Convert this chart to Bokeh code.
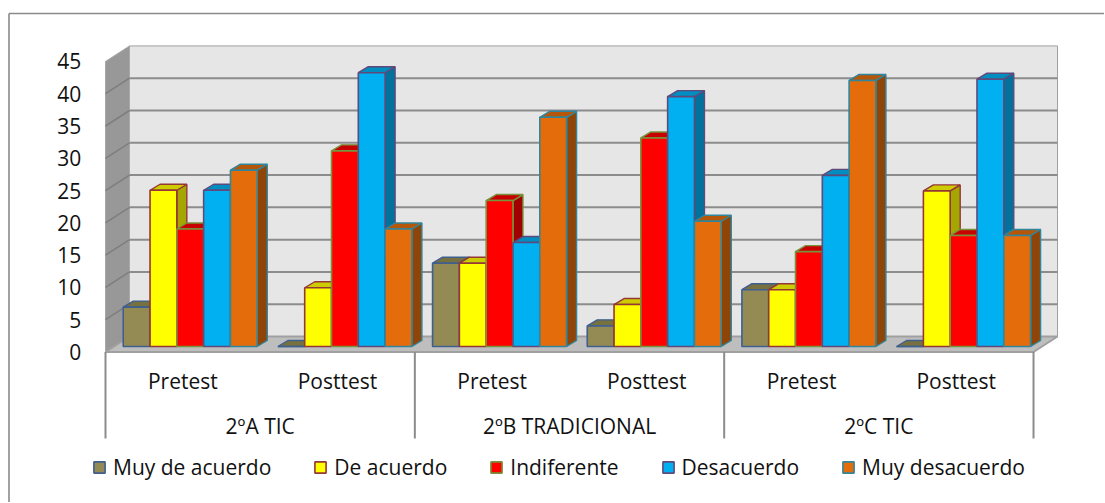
from bokeh.plotting import figure
from bokeh.models import Range1d, Legend, LegendItem, ColumnDataSource
from bokeh.core.properties import value
from bokeh.embed import file_html
from bokeh.resources import INLINE

# ---------------- data ----------------
groups = ["2ºA TIC", "2ºB TRADICIONAL", "2ºC TIC"]
tests = ["Pretest", "Posttest"]
series_names = ["Muy de acuerdo", "De acuerdo", "Indiferente", "Desacuerdo", "Muy desacuerdo"]
# one value per (group, test): A-Pre, A-Post, B-Pre, B-Post, C-Pre, C-Post
muy_de_acuerdo = [6.1, 0.0, 12.9, 3.2, 8.8, 0.0]
de_acuerdo = [24.2, 9.1, 12.9, 6.5, 8.8, 24.1]
indiferente = [18.2, 30.3, 22.6, 32.3, 14.7, 17.2]
desacuerdo = [24.2, 42.4, 16.1, 38.7, 26.5, 41.4]
muy_desacuerdo = [27.3, 18.2, 35.5, 19.4, 41.2, 17.2]
y_ticks = [0, 5, 10, 15, 20, 25, 30, 35, 40, 45]
y_max = 45

all_series = [muy_de_acuerdo, de_acuerdo, indiferente, desacuerdo, muy_desacuerdo]

# ---------------- style ----------------
fills = ["#948A54", "#FFFF00", "#FF0000", "#00B0F0", "#E46C0A"]
tops = ["#77703F", "#CCCC00", "#C80000", "#008DC0", "#B65608"]
sides = ["#5F5A35", "#A6A600", "#A00000", "#00729C", "#8F4507"]
edges = ["#3F5F8F", "#953735", "#77933C", "#604A7B", "#31859C"]

FONT = value("Open Sans")
FS = "21px"

W, H = 1104, 502
X_UNIT = 154.67          # px per category slot
Y_UNIT = 6.457           # px per value unit
ORIGIN_X = 105.0         # px (figure coords) of the front-left floor corner
ORIGIN_Y = 351.5         # px (figure coords, from top) of front zero line

x_start = -ORIGIN_X / X_UNIT
x_end = x_start + W / X_UNIT
y_end = ORIGIN_Y / Y_UNIT
y_start = y_end - H / Y_UNIT

WALL_DX = 24 / X_UNIT
WALL_DY = 15.5 / Y_UNIT
PLANE_DX = 7.4 / X_UNIT
PLANE_DY = 5.5 / Y_UNIT
BAR_DX = 10 / X_UNIT
BAR_DY = 6 / Y_UNIT
BAR_W = 26.8 / X_UNIT
n_slots = len(groups) * len(tests)
GROUP_OFF = (1 - len(all_series) * BAR_W) / 2 + PLANE_DX

def px_x(dx):
    return dx / X_UNIT

def px_y(dy):
    return dy / Y_UNIT

p = figure(width=W, height=H, output_backend="svg", toolbar_location=None,
           x_range=Range1d(x_start, x_end), y_range=Range1d(y_start, y_end),
           x_axis_type=None, y_axis_type=None, title=None,
           min_border=0, min_border_left=0, min_border_right=0,
           min_border_top=0, min_border_bottom=0)
p.grid.visible = False
p.outline_line_color = None
p.background_fill_color = "white"
p.border_fill_color = "white"

# outer chart border (left and top)
bx = x_start + px_x(8.5)
by = y_end - px_y(13)
p.segment(x0=[bx, bx], y0=[by, by], x1=[x_end, bx], y1=[by, y_start],
          line_color="#8A8A8A", line_width=1.6)

# back wall
p.quad(left=[WALL_DX], right=[n_slots + WALL_DX], bottom=[WALL_DY], top=[y_max + WALL_DY],
       fill_color="#E6E6E6", line_color="#A0A0A0", line_width=1)
# left wall
p.patch(x=[0, WALL_DX, WALL_DX, 0], y=[0, WALL_DY, y_max + WALL_DY, y_max],
        fill_color="#989898", line_color="#A8A8A8", line_width=1)
# gridlines on back wall and left wall
grid_v = [t for t in y_ticks if 0 < t < y_max]
p.segment(x0=[WALL_DX] * len(grid_v), y0=[t + WALL_DY for t in grid_v],
          x1=[n_slots + WALL_DX] * len(grid_v), y1=[t + WALL_DY for t in grid_v],
          line_color="#8C8C8C", line_width=2)
p.segment(x0=[0] * len(grid_v), y0=grid_v,
          x1=[WALL_DX] * len(grid_v), y1=[t + WALL_DY for t in grid_v],
          line_color="#7E7E7E", line_width=1.5)
# floor
p.patch(x=[0, n_slots, n_slots + WALL_DX, WALL_DX], y=[0, 0, WALL_DY, WALL_DY],
        fill_color="#BEBEBE", line_color="#A0A0A0", line_width=2)

# bars: sides, tops, fronts
sx, sy, sc, se = [], [], [], []
tx, ty, tc, te = [], [], [], []
for i in range(n_slots):
    for j, vals in enumerate(all_series):
        v = vals[i]
        l = i + GROUP_OFF + j * BAR_W
        r = l + BAR_W
        b = PLANE_DY
        t = b + v
        sx.append([r, r + BAR_DX, r + BAR_DX, r])
        sy.append([b, b + BAR_DY, t + BAR_DY, t])
        sc.append(sides[j]); se.append(edges[j])
        tx.append([l, r, r + BAR_DX, l + BAR_DX])
        ty.append([t, t, t + BAR_DY, t + BAR_DY])
        tc.append(tops[j]); te.append(edges[j])

p.patches(xs="xs", ys="ys", fill_color="fc", line_color="lc", line_width=1.4,
          source=ColumnDataSource(dict(xs=sx, ys=sy, fc=sc, lc=se)))
p.patches(xs="xs", ys="ys", fill_color="fc", line_color="lc", line_width=1.4,
          source=ColumnDataSource(dict(xs=tx, ys=ty, fc=tc, lc=te)))

front_renderers = []
for j, vals in enumerate(all_series):
    lefts = [i + GROUP_OFF + j * BAR_W for i in range(n_slots)]
    rights = [l + BAR_W for l in lefts]
    r = p.quad(left=lefts, right=rights, bottom=[PLANE_DY] * n_slots,
               top=[PLANE_DY + v for v in vals],
               fill_color=fills[j], line_color=edges[j], line_width=1.6)
    front_renderers.append(r)

# y tick labels
p.text(x=[-px_x(24.3)] * len(y_ticks), y=y_ticks, text=[str(t) for t in y_ticks],
       text_font=FONT, text_font_size=FS, text_align="right", text_baseline="middle",
       text_color="#111111")

# category axis: separators and labels
sep_x = [g * len(tests) for g in range(len(groups) + 1)]
p.segment(x0=sep_x, y0=[0] * len(sep_x), x1=sep_x, y1=[-px_y(86.5)] * len(sep_x),
          line_color="#8C8C8C", line_width=2)
sub_labels = [t for g in groups for t in tests]
p.text(x=[i + 0.5 for i in range(n_slots)], y=[-px_y(28.5)] * n_slots, text=sub_labels,
       text_font=FONT, text_font_size=FS, text_align="center", text_baseline="middle",
       text_color="#111111")
p.text(x=[g * len(tests) + len(tests) / 2 for g in range(len(groups))],
       y=[-px_y(73.5)] * len(groups), text=groups,
       text_font=FONT, text_font_size=FS, text_align="center", text_baseline="middle",
       text_color="#111111")

legend = Legend(items=[LegendItem(label=n, renderers=[r]) for n, r in zip(series_names, front_renderers)],
                orientation="horizontal", location=(92, 21), spacing=42,
                glyph_width=14, glyph_height=14, label_standoff=7, padding=0, margin=0,
                border_line_color=None, background_fill_alpha=0,
                label_text_font="Open Sans", label_text_font_size=FS, label_text_color="#111111")
p.add_layout(legend)

open("out.html", "w").write(file_html(p, INLINE))
